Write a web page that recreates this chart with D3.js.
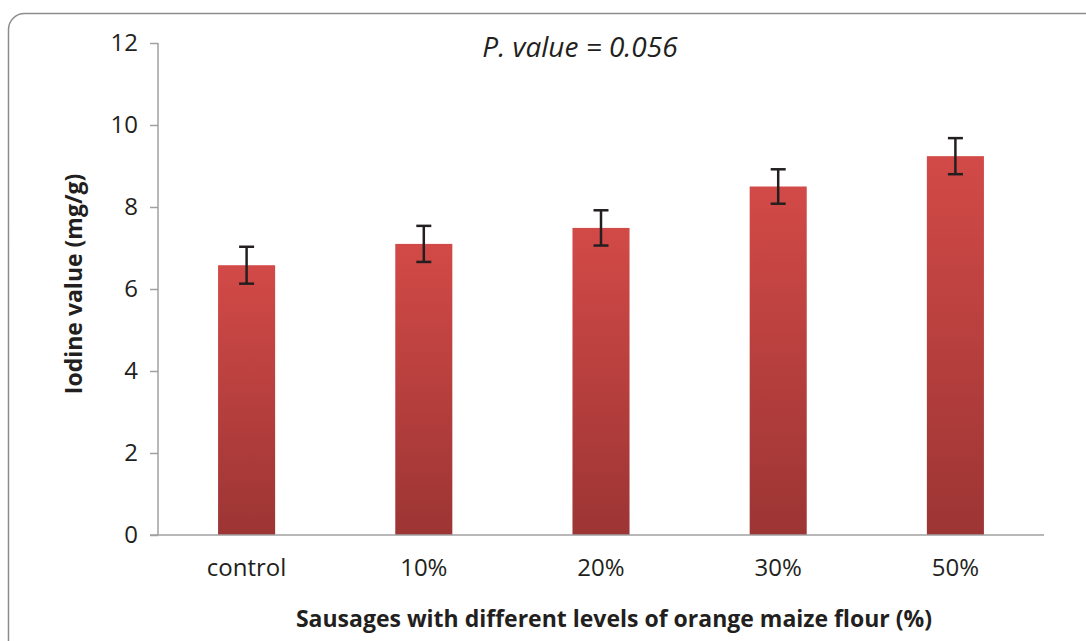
<!DOCTYPE html>
<html>
<head>
    <meta charset="UTF-8">
    <title>Iodine value</title>
    <script src="https://d3js.org/d3.v7.min.js"></script>
    <style>
        body { margin: 0; background: #fff; }
        text { font-family: "Open Sans", sans-serif; fill: #231f20; }
    </style>
</head>
<body>
<div id="chart"></div>
<script>
    // data
    var categories = ["control", "10%", "20%", "30%", "50%"];
    var iodine = [6.58, 7.1, 7.49, 8.5, 9.24];
    var errors = [0.45, 0.44, 0.43, 0.42, 0.44];
    var yTicks = [0, 2, 4, 6, 8, 10, 12];

    var width = 1086, height = 641;
    var plotLeft = 158, plotRight = 1044, plotTop = 43, plotBottom = 535;

    var svg = d3.select("#chart").append("svg")
        .attr("width", width)
        .attr("height", height);

    // gradient for the bars
    var grad = svg.append("defs").append("linearGradient")
        .attr("id", "barGrad")
        .attr("x1", 0).attr("y1", 0).attr("x2", 0).attr("y2", 1);
    grad.append("stop").attr("offset", "0%").attr("stop-color", "#d24a47");
    grad.append("stop").attr("offset", "100%").attr("stop-color", "#9c3534");

    // outer frame (rounded, cut off at right and bottom)
    svg.append("rect")
        .attr("x", 8.5).attr("y", 13.5)
        .attr("width", 1200).attr("height", 800)
        .attr("rx", 16)
        .attr("fill", "none")
        .attr("stroke", "#8c8c8c")
        .attr("stroke-width", 1.5);

    var x = d3.scaleBand()
        .domain(categories)
        .range([plotLeft, plotRight])
        .paddingInner(0.678)
        .paddingOuter(0.339);

    var y = d3.scaleLinear()
        .domain([0, 12])
        .range([plotBottom, plotTop]);

    // y axis
    var yAxis = svg.append("g")
        .attr("transform", "translate(" + plotLeft + ",0)")
        .call(d3.axisLeft(y).tickValues(yTicks).tickSize(8).tickPadding(12));
    yAxis.selectAll("path, line").attr("stroke", "#a0a0a0").attr("stroke-width", 1.5);
    yAxis.select(".domain").attr("d", "M0," + plotTop + "V" + plotBottom);
    yAxis.selectAll("text").attr("font-size", 24).attr("font-family", "Open Sans").attr("fill", "#231f20");

    // bars
    svg.selectAll("rect.bar")
        .data(iodine)
        .enter()
        .append("rect")
        .attr("class", "bar")
        .attr("x", function(d, i) { return x(categories[i]); })
        .attr("y", function(d) { return y(d); })
        .attr("width", x.bandwidth())
        .attr("height", function(d) { return plotBottom - y(d); })
        .attr("fill", "url(#barGrad)");

    // x axis
    var xAxis = svg.append("g")
        .attr("transform", "translate(0," + plotBottom + ")")
        .call(d3.axisBottom(x).tickSize(0).tickPadding(24));
    xAxis.select(".domain").attr("d", "M" + (plotLeft - 8) + ",0H" + plotRight)
        .attr("stroke", "#a0a0a0").attr("stroke-width", 1.5);
    xAxis.selectAll("text").attr("font-size", 24).attr("font-family", "Open Sans").attr("fill", "#231f20");

    // error bars
    var cap = 7.5;
    var eb = svg.selectAll("g.err")
        .data(iodine)
        .enter()
        .append("g")
        .attr("class", "err")
        .attr("stroke", "#231f20")
        .attr("stroke-width", 2.5);
    eb.append("line")
        .attr("x1", function(d, i) { return x(categories[i]) + x.bandwidth() / 2; })
        .attr("x2", function(d, i) { return x(categories[i]) + x.bandwidth() / 2; })
        .attr("y1", function(d, i) { return y(d + errors[i]); })
        .attr("y2", function(d, i) { return y(d - errors[i]); });
    eb.append("line")
        .attr("x1", function(d, i) { return x(categories[i]) + x.bandwidth() / 2 - cap; })
        .attr("x2", function(d, i) { return x(categories[i]) + x.bandwidth() / 2 + cap; })
        .attr("y1", function(d, i) { return y(d + errors[i]); })
        .attr("y2", function(d, i) { return y(d + errors[i]); });
    eb.append("line")
        .attr("x1", function(d, i) { return x(categories[i]) + x.bandwidth() / 2 - cap; })
        .attr("x2", function(d, i) { return x(categories[i]) + x.bandwidth() / 2 + cap; })
        .attr("y1", function(d, i) { return y(d - errors[i]); })
        .attr("y2", function(d, i) { return y(d - errors[i]); });

    // titles
    svg.append("text")
        .attr("x", 580).attr("y", 57)
        .attr("text-anchor", "middle")
        .attr("font-size", 28)
        .attr("font-style", "italic")
        .text("P. value = 0.056");

    svg.append("text")
        .attr("x", 614).attr("y", 627)
        .attr("text-anchor", "middle")
        .attr("font-size", 23)
        .attr("font-weight", "bold")
        .text("Sausages with different levels of orange maize flour (%)");

    svg.append("text")
        .attr("transform", "translate(82,284) rotate(-90)")
        .attr("text-anchor", "middle")
        .attr("font-size", 23)
        .attr("font-weight", "bold")
        .text("Iodine value (mg/g)");
</script>
</body>
</html>
